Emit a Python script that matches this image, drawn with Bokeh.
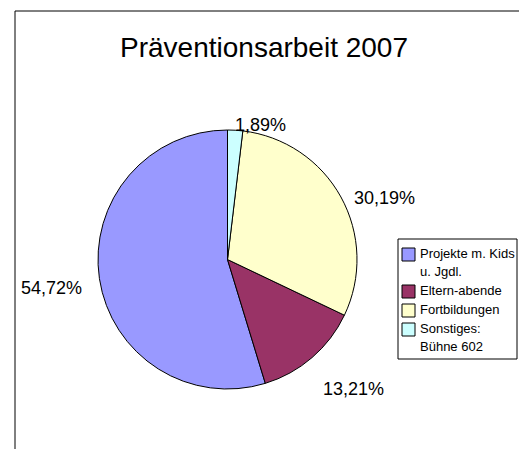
import numpy as np
from bokeh.plotting import figure
from bokeh.models import ColumnDataSource, Range1d
from bokeh.core.properties import value
from bokeh.embed import file_html
from bokeh.resources import INLINE

# ---- data ----
TITLE = "Präventionsarbeit 2007"
categories = ["Projekte m. Kids u. Jgdl.", "Eltern-abende", "Fortbildungen", "Sonstiges: Bühne 602"]
legend_labels = ["Projekte m. Kids\nu. Jgdl.", "Eltern-abende", "Fortbildungen", "Sonstiges:\nBühne 602"]
counts = [29, 7, 16, 1]
colors = ["#9999FF", "#993366", "#FFFFCC", "#CCFFFF"]

# ---- layout (page pixels) ----
W, H = 519, 449
OFF = 0
def px(X):
    return X - OFF
def py(Y):
    return H - (Y - OFF)

FONT = "Liberation Sans"
CX, CY, R = 227.0, 259.0, 129.5
label_pos = [(51, 287), (353, 388), (384, 197), (260, 124)]  # baselines (page px), same order as categories

p = figure(width=W, height=H, output_backend="svg", toolbar_location=None,
           x_range=Range1d(0, W), y_range=Range1d(0, H),
           min_border=0, min_border_left=0, min_border_right=0,
           min_border_top=0, min_border_bottom=0)
p.axis.visible = False
p.grid.visible = False
p.outline_line_color = None
p.background_fill_color = "white"
p.border_fill_color = "white"

# chart frame (left & top edges visible)
p.segment(x0=[px(14.5), px(14.5)], y0=[py(10.5), py(10.5)],
          x1=[px(14.5), px(700)], y1=[py(700), py(10.5)],
          line_color="black", line_width=1)

# title
p.text(x=[px(263.5)], y=[py(46.7)], text=[TITLE], text_align="center",
       text_baseline="alphabetic", text_font=value(FONT), text_font_size="28px",
       text_color="black")

# pie
vals = np.array(counts, dtype=float)
frac = vals / vals.sum()
cum = np.concatenate([[0.0], np.cumsum(frac)])
start = np.pi / 2 + 2 * np.pi * cum[:-1]
end = np.pi / 2 + 2 * np.pi * cum[1:]
src = ColumnDataSource(dict(cat=categories, start=start, end=end, color=colors,
                            pct=[f"{f*100:.2f}%".replace(".", ",") for f in frac]))
p.wedge(x=px(CX), y=py(CY), radius=R, start_angle="start", end_angle="end",
        direction="anticlock", fill_color="color", line_color="black", line_width=1,
        source=src)

# percentage labels
p.text(x=[px(a) for a, b in label_pos], y=[py(b) for a, b in label_pos],
       text=src.data["pct"], text_align="center", text_baseline="alphabetic",
       text_font=value(FONT), text_font_size="18px", text_color="black")

# legend
p.quad(left=[px(397.5)], right=[px(516.5)], top=[py(238.5)], bottom=[py(358.5)],
       fill_color="white", line_color="black", line_width=1)
sw_tops = [247, 284, 303, 322]
p.quad(left=[px(401.5)] * 4, right=[px(414.5)] * 4,
       top=[py(t + 0.5) for t in sw_tops], bottom=[py(t + 13.5) for t in sw_tops],
       fill_color=colors, line_color="black", line_width=1)
p.text(x=[px(419.5)] * 4, y=[py(t - 2) for t in sw_tops], text=legend_labels,
       text_align="left", text_baseline="top", text_font=value(FONT),
       text_font_size="13px", text_line_height=1.25, text_color="black")

open("out.html", "w").write(file_html(p, INLINE))
